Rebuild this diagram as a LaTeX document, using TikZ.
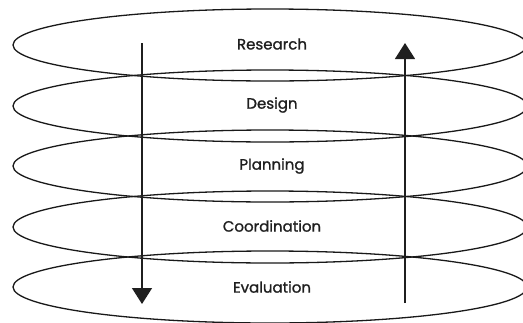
\documentclass[tikz,border=0pt]{standalone}
\usepackage{fontspec}
\setmainfont{Poppins}
\newfontfamily\lblfont{Poppins}[FakeBold=1.2]
\usetikzlibrary{shapes.geometric,arrows.meta}
\begin{document}
\begin{tikzpicture}[x=1pt,y=-1pt,
  layer/.style={ellipse,draw=black!90,line width=1.3pt,minimum width=514pt,minimum height=72pt,inner sep=0pt},
  lbl/.style={font=\lblfont\fontsize{15}{16}\selectfont,text=black!88},
  flow/.style={draw=black!88,line width=1.3pt,-{Triangle[width=20pt,length=16pt]}}]
\useasboundingbox (0,0) rectangle (523,322);
\begin{scope}
\clip (0,0) rectangle (523,322);
\node[layer] (research) at (270,45) {};
\node[layer] (design) at (270,106) {};
\node[layer] (planning) at (270,166) {};
\node[layer] (coordination) at (270,227) {};
\node[layer] (evaluation) at (270,287) {};
\end{scope}
\node[lbl] (t1) at (272,44) {Research};
\node[lbl] (t2) at (272,105) {Design};
\node[lbl] (t3) at (272,166) {Planning};
\node[lbl] (t4) at (272,226) {Coordination};
\node[lbl] (t5) at (272,287) {Evaluation};
\coordinate (downstart) at (142,43);
\coordinate (downend) at (142,304);
\coordinate (upstart) at (405,303);
\coordinate (upend) at (405,43);
\draw[flow] (downstart) -- (downend);
\draw[flow] (upstart) -- (upend);
\end{tikzpicture}
\end{document}
